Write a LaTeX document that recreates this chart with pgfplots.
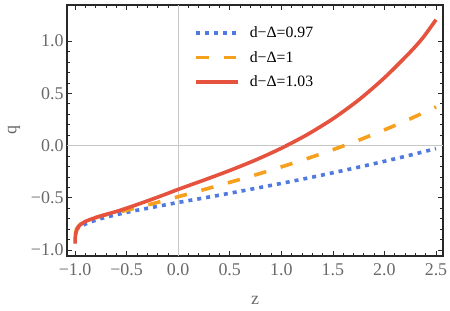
\documentclass[border=0pt]{standalone}
\usepackage{fontspec}
\setmainfont{Liberation Serif}
\usepackage{pgfplots}
\pgfplotsset{compat=1.18}
\definecolor{cblue}{RGB}{80,122,224}
\definecolor{corange}{RGB}{247,160,30}
\definecolor{cred}{RGB}{229,82,62}
\definecolor{tickgray}{RGB}{105,105,105}
\definecolor{framegray}{RGB}{40,40,40}
\begin{document}
\begin{tikzpicture}[font=\fontsize{18}{21}\selectfont]
\begin{axis}[
  scale only axis, width=376bp, height=251bp,
  xmin=-1.078, xmax=2.568, ymin=-1.058, ymax=1.346,
  xtick={-1,-0.5,0,0.5,1,1.5,2,2.5},
  xticklabels={−1.0,−0.5,0.0,0.5,1.0,1.5,2.0,2.5},
  ytick={-1,-0.5,0,0.5,1},
  yticklabels={−1.0,−0.5,0.0,0.5,1.0},
  minor x tick num=4, minor y tick num=4,
  tick align=inside,
  major tick length=5bp, minor tick length=3bp,
  every tick/.style={framegray, line width=0.7bp},
  axis line style={framegray, line width=1.1bp},
  tick label style={tickgray, font=\fontsize{18}{21}\selectfont},
  xticklabel style={yshift=-4bp},
  xlabel={z}, ylabel={q},
  label style={tickgray, font=\fontsize{18}{21}\selectfont},
  xlabel style={at={(rel axis cs:0.5,-0.175)}, anchor=center},
  ylabel style={at={(rel axis cs:-0.141,0.5)}, anchor=center},
  extra x ticks={0}, extra x tick labels={},
  extra x tick style={grid=major, major tick length=0pt, major grid style={black!22, line width=0.9bp}},
  extra y ticks={0}, extra y tick labels={},
  extra y tick style={grid=major, major tick length=0pt, major grid style={black!22, line width=0.9bp}},
  legend style={at={(rel axis cs:0.33,0.93)}, anchor=north west, draw=none, fill=none,
    font=\fontsize{15.8}{18}\selectfont, row sep=8bp},
  legend cell align=left,
  legend image code/.code={\draw[#1] (0bp,0bp) -- (42bp,0bp); \path (50bp,0bp);},
]
\addplot[cblue, line width=3.6bp, dash pattern=on 4bp off 5bp, smooth, tension=0.5] coordinates {
(-0.99,-0.81) (-0.97,-0.79) (-0.9,-0.752) (-0.75,-0.70) (-0.5,-0.64) (-0.25,-0.592)
(0,-0.545) (0.25,-0.502) (0.5,-0.457) (0.75,-0.41) (1.0,-0.3625) (1.25,-0.313)
(1.5,-0.261) (1.75,-0.207) (2.0,-0.151) (2.25,-0.092) (2.5,-0.029)};
\addlegendentry{d−Δ=0.97}
\addplot[corange, line width=3.6bp, dash pattern=on 12.5bp off 15bp, smooth, tension=0.5] coordinates {
(-0.997,-0.85) (-0.985,-0.80) (-0.95,-0.755) (-0.9,-0.725) (-0.75,-0.675) (-0.5,-0.62)
(-0.25,-0.5575) (0,-0.49) (0.25,-0.422) (0.5,-0.3525) (0.75,-0.281) (1.0,-0.205)
(1.25,-0.125) (1.5,-0.04) (1.75,0.051) (2.0,0.15) (2.25,0.256) (2.5,0.37)};
\addlegendentry{d−Δ=1}
\addplot[cred, line width=3.6bp, smooth, tension=0.45] coordinates {
(-1.0,-0.94) (-0.998,-0.88) (-0.99,-0.83) (-0.975,-0.79) (-0.95,-0.76) (-0.9,-0.727)
(-0.8,-0.69) (-0.7,-0.66) (-0.6,-0.632) (-0.5,-0.600) (-0.4,-0.566) (-0.3,-0.531)
(-0.2,-0.495) (-0.1,-0.458) (0,-0.42) (0.25,-0.331) (0.5,-0.239) (0.75,-0.139)
(1.0,-0.026) (1.25,0.104) (1.5,0.256) (1.75,0.436) (2.0,0.649) (2.25,0.895)
(2.375,1.035) (2.5,1.205)};
\addlegendentry{d−Δ=1.03}
\end{axis}
\pgfresetboundingbox
\path ([xshift=-67bp,yshift=-55bp]current axis.south west) rectangle ([xshift=7bp,yshift=5bp]current axis.north east);
\end{tikzpicture}
\end{document}
